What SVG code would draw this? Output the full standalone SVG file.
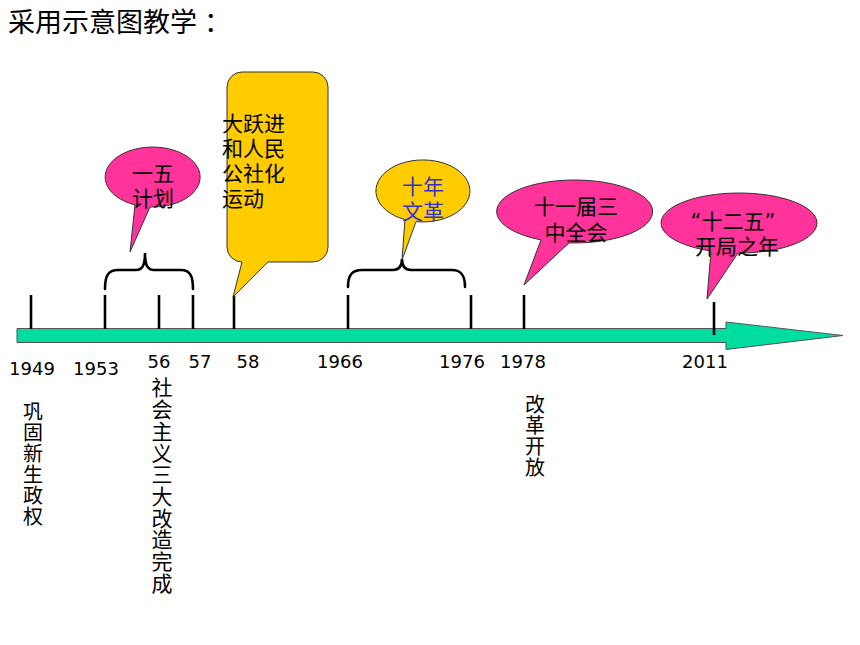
<svg xmlns="http://www.w3.org/2000/svg" width="860" height="645" viewBox="0 0 860 645">
<style>
  .cjk { font-family: "DejaVu Sans", "Noto Sans CJK SC", sans-serif; fill: #000; }
  .yr { font-family: "DejaVu Sans", sans-serif; font-size: 18px; fill: #000; text-anchor: middle; }
  .co { font-size: 21px; text-anchor: middle; }
  .vt { font-family: "Noto Sans CJK SC", sans-serif; fill: #000; writing-mode: vertical-rl; }
  .tick { stroke: #000; stroke-width: 2.6; fill: none; }
  .brace { stroke: #000; stroke-width: 2.6; fill: none; stroke-linecap: round; }
  .pink { fill: #FF3399; stroke: #333; stroke-width: 1; }
  .yel { fill: #FFCC00; stroke: #333; stroke-width: 1; }
</style>
<rect width="860" height="645" fill="#fff"/>
<text x="8" y="32" font-size="27" font-family="Noto Sans CJK SC, sans-serif" fill="#000">采用示意图教学<tspan dx="7">：</tspan></text>

<g id="timeline">
  <polygon points="17,328.5 726,328.5 726,322 843,335.5 726,349.5 726,342.5 17,342.5" fill="#00DDA0" stroke="#555" stroke-width="1"/>
</g>

<g id="connectors">
  <line class="tick" x1="31" y1="295" x2="31" y2="329"/>
  <line class="tick" x1="105" y1="295" x2="105" y2="329"/>
  <line class="tick" x1="159" y1="295" x2="159" y2="329"/>
  <line class="tick" x1="193" y1="295" x2="193" y2="329"/>
  <line class="tick" x1="234" y1="296" x2="234" y2="329"/>
  <line class="tick" x1="348" y1="295" x2="348" y2="329"/>
  <line class="tick" x1="471" y1="295" x2="471" y2="329"/>
  <line class="tick" x1="524" y1="295" x2="524" y2="329"/>
  <line class="tick" x1="714" y1="302" x2="714" y2="335"/>
  <path class="brace" d="M105,289 C105,276 108,270 118,270 L136,270 C142,270 145,266 145,253 C145,266 148,270 154,270 L181,270 C190,270 193,276 193,289"/>
  <path class="brace" d="M348,287 C348,275 352,270 362,270 L393,270 C399,270 402,267 402,259 C402,267 405,270 411,270 L452,270 C461,270 465,275 465,287"/>
</g>

<g id="callout-yiwu">
  <path class="pink" d="M150,207 L130,252 L135,204.9 A47.5 30 0 1 1 150,207 Z"/>
  <text class="cjk co" x="153" y="181">一五</text>
  <text class="cjk co" x="153" y="206">计划</text>
</g>

<g id="callout-dayuejin">
  <path class="yel" d="M242,72 H313 A15 15 0 0 1 328,87 V247 A15 15 0 0 1 313,262 H268 L233,297 L242,262 A15 15 0 0 1 227,247 V87 A15 15 0 0 1 242,72 Z"/>
  <text class="cjk" font-size="21" x="222" y="131">大跃进</text>
  <text class="cjk" font-size="21" x="222" y="156">和人民</text>
  <text class="cjk" font-size="21" x="222" y="181">公社化</text>
  <text class="cjk" font-size="21" x="222" y="206">运动</text>
</g>

<g id="callout-wenge">
  <path class="yel" d="M416,221.6 L402,260 L405,219.6 A47 31 0 1 1 416,221.6 Z"/>
  <text class="cjk co" x="423" y="194" style="fill:#3333CC">十年</text>
  <text class="cjk co" x="423" y="219" style="fill:#3333CC">文革</text>
</g>

<g id="callout-sanzhong">
  <path class="pink" d="M569,242.9 L524,285 L541,239.9 A78 31.5 0 1 1 569,242.9 Z"/>
  <text class="cjk co" x="576" y="214">十一届三</text>
  <text class="cjk co" x="576" y="240">中全会</text>
</g>

<g id="callout-shierwu">
  <path class="pink" d="M738,253 L707,299 L711,251 A78 30 0 1 1 738,253 Z"/>
  <text class="cjk co" x="733" y="229">“十二五”</text>
  <text class="cjk co" x="737" y="254">开局之年</text>
</g>

<g id="years">
  <text class="yr" x="32" y="375">1949</text>
  <text class="yr" x="96" y="375">1953</text>
  <text class="yr" x="159" y="368">56</text>
  <text class="yr" x="200" y="368">57</text>
  <text class="yr" x="248" y="368">58</text>
  <text class="yr" x="340" y="368">1966</text>
  <text class="yr" x="462" y="368">1976</text>
  <text class="yr" x="523" y="368">1978</text>
  <text class="yr" x="705" y="368">2011</text>
</g>

<g id="label-gonggu">
  <text class="vt" x="33" y="401" font-size="20" letter-spacing="1">巩固新生政权</text>
</g>

<g id="label-gaizao">
  <text class="vt" x="162" y="377" font-size="21" letter-spacing="0.7">社会主义三大改造完成</text>
</g>

<g id="label-gaige">
  <text class="vt" x="535" y="394" font-size="20" letter-spacing="1">改革开放</text>
</g>
</svg>
